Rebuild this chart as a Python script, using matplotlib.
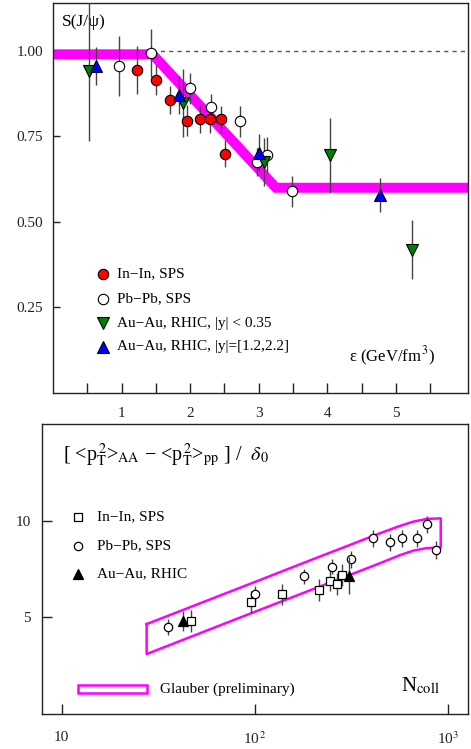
import matplotlib
matplotlib.use("Agg")
import matplotlib.pyplot as plt
import numpy as np
from matplotlib.patches import Rectangle

plt.rcParams['font.family'] = ['Liberation Serif', 'DejaVu Serif']
plt.rcParams['mathtext.fontset'] = 'stix'

# ---------------- top panel data ----------------
inin_x = [1.23, 1.50, 1.71, 1.96, 2.14, 2.29, 2.45, 2.51]
inin_y = [0.945, 0.915, 0.857, 0.796, 0.800, 0.800, 0.800, 0.700]
inin_e = [0.070, 0.045, 0.040, 0.045, 0.040, 0.040, 0.040, 0.040]

pbpb_x = [0.96, 1.43, 1.99, 2.31, 2.72, 2.97, 3.12, 3.49]
pbpb_y = [0.956, 0.993, 0.891, 0.835, 0.794, 0.675, 0.697, 0.590]
pbpb_e = [0.087, 0.070, 0.045, 0.040, 0.046, 0.040, 0.050, 0.045]

rhic_mid_x = [0.53, 1.89, 3.07, 4.04, 5.24]
rhic_mid_y = [0.942, 0.847, 0.675, 0.695, 0.419]
rhic_mid_e = [0.205, 0.100, 0.070, 0.110, 0.087]

rhic_fwd_x = [0.62, 1.84, 3.01, 4.76]
rhic_fwd_y = [0.956, 0.871, 0.703, 0.578]
rhic_fwd_e = [0.055, 0.055, 0.055, 0.050]

band_x = [0.0, 1.45, 3.25, 6.05]
band_y = [0.99, 0.99, 0.60, 0.60]

top_labels = ['In\u2212In, SPS', 'Pb\u2212Pb, SPS',
              'Au\u2212Au, RHIC, |y| < 0.35', 'Au\u2212Au, RHIC, |y|=[1.2,2.2]']

# ---------------- bottom panel data ----------------
b_inin_x = [46.7, 95, 138, 214, 244, 265, 281]
b_inin_y = [4.81, 5.79, 6.20, 6.41, 6.90, 6.72, 7.19]
b_inin_e = [0.55, 0.55, 0.55, 0.55, 0.55, 0.55, 0.55]

b_pbpb_x = [35.3, 100, 180, 249, 313, 406, 499, 574, 686, 773, 863]
b_pbpb_y = [4.51, 6.20, 7.12, 7.62, 8.00, 9.09, 8.88, 9.09, 9.09, 9.81, 8.48]
b_pbpb_e = [0.40, 0.40, 0.40, 0.40, 0.45, 0.45, 0.45, 0.45, 0.45, 0.45, 0.45]

b_auau_x = [42.3, 308]
b_auau_y = [4.81, 7.15]
b_auau_e = [0.50, 0.95]

glauber_up_x = [27.5, 106, 200, 298, 443, 563, 659, 773, 913]
glauber_up_y = [4.65, 6.93, 8.01, 8.68, 9.35, 9.73, 9.95, 10.09, 10.12]
glauber_lo_x = [27.5, 100, 200, 298, 443, 563, 659, 773, 913]
glauber_lo_y = [3.10, 5.29, 6.46, 7.13, 7.80, 8.22, 8.45, 8.58, 8.62]

bot_labels = ['In\u2212In, SPS', 'Pb\u2212Pb, SPS', 'Au\u2212Au, RHIC']

fig = plt.figure(figsize=(4.71, 7.49), dpi=100)
W, H = 471, 749

def axrect(x0, y0, x1, y1):
    return [x0 / W, 1 - y1 / H, (x1 - x0) / W, (y1 - y0) / H]

spine_col = '#222222'
err_col = '#444444'

# ======== TOP ========
ax = fig.add_axes(axrect(53, 3, 468, 393))
ax.set_xlim(0, 6.05)
ax.set_ylim(0, 1.14)
ax.plot(band_x, band_y, color='#ff00ff', lw=7.2, solid_joinstyle='miter', zorder=2)
ax.plot([1.45, 6.05], [1.0, 1.0], color='#555555', lw=1.0, ls=(0, (3, 3)), zorder=1)

ms = 7.5
ax.errorbar(inin_x, inin_y, yerr=inin_e, fmt='o', ms=ms, mfc='#ff0000', mec='black',
            mew=0.8, ecolor=err_col, elinewidth=1.0, capsize=0, zorder=4)
ax.errorbar(pbpb_x, pbpb_y, yerr=pbpb_e, fmt='o', ms=ms, mfc='white', mec='black',
            mew=0.8, ecolor=err_col, elinewidth=1.0, capsize=0, zorder=4)
ax.errorbar(rhic_mid_x, rhic_mid_y, yerr=rhic_mid_e, fmt='v', ms=8, mfc='#008000', mec='black',
            mew=0.8, ecolor=err_col, elinewidth=1.0, capsize=0, zorder=4)
ax.errorbar(rhic_fwd_x, rhic_fwd_y, yerr=rhic_fwd_e, fmt='^', ms=8, mfc='#0000ff', mec='black',
            mew=0.8, ecolor=err_col, elinewidth=1.0, capsize=0, zorder=4)

ax.set_xticks([1, 2, 3, 4, 5])
ax.set_xticks([0.5, 1.5, 2.5, 3.5, 4.5, 5.5], minor=True)
ax.set_yticks([0.25, 0.5, 0.75, 1.0])
ax.set_yticklabels(['0.25', '0.50', '0.75', '1.00'])
ax.tick_params(axis='both', which='both', direction='in', length=7, width=1.0,
               labelsize=11, colors=spine_col)
ax.tick_params(axis='x', which='both', pad=10)
ax.tick_params(axis='y', length=5, pad=7)
for s in ax.spines.values():
    s.set_color(spine_col)
    s.set_linewidth(1.0)

leg_y = [0.305, 0.241, 0.179, 0.118]
leg_style = [dict(marker='o', mfc='#ff0000', ms=ms), dict(marker='o', mfc='white', ms=ms),
             dict(marker='v', mfc='#008000', ms=8), dict(marker='^', mfc='#0000ff', ms=8)]
for yy, lab, st in zip(leg_y, top_labels, leg_style):
    ax.plot([0.1205], [yy], transform=ax.transAxes, ls='none', mec='black', mew=0.8,
            clip_on=False, **st)
    ax.text(0.154, yy, lab, transform=ax.transAxes, fontsize=11, va='center', ha='left')

ax.text(0.022, 0.951, 'S(J/\u03c8)', transform=ax.transAxes, fontsize=12.5,
        va='center', ha='left')
ax.text(0.922, 0.095, '\u03b5 (GeV/fm$^{\\,3}$)', transform=ax.transAxes, fontsize=12,
        va='center', ha='right')

# ======== BOTTOM ========
bx = fig.add_axes(axrect(41.7, 424, 467.7, 714))
bx.set_xscale('log')
bx.set_xlim(7.88, 1259)
bx.set_ylim(0, 15)

poly_x = glauber_up_x + glauber_lo_x[::-1] + [glauber_up_x[0]]
poly_y = glauber_up_y + glauber_lo_y[::-1] + [glauber_up_y[0]]
bx.plot(poly_x, poly_y, color='#ff00ff', lw=1.8, zorder=2)

bms = 5.5
bx.errorbar(b_inin_x, b_inin_y, yerr=b_inin_e, fmt='s', ms=bms, mfc='white', mec='black',
            mew=0.9, ecolor=err_col, elinewidth=1.0, capsize=0, zorder=4)
bx.errorbar(b_pbpb_x, b_pbpb_y, yerr=b_pbpb_e, fmt='o', ms=bms + 0.5, mfc='white', mec='black',
            mew=0.9, ecolor=err_col, elinewidth=1.0, capsize=0, zorder=4)
bx.errorbar(b_auau_x, b_auau_y, yerr=b_auau_e, fmt='^', ms=bms + 1, mfc='black', mec='black',
            mew=0.9, ecolor=err_col, elinewidth=1.0, capsize=0, zorder=5)

bx.set_xticks([10, 100, 1000])
bx.set_xticklabels(['10', '10$^{\\,2}$', '10$^{3}$'])
bx.xaxis.set_minor_locator(matplotlib.ticker.NullLocator())
bx.set_yticks([5, 10])
bx.set_yticklabels(['5', '10'])
bx.tick_params(axis='both', which='both', direction='in', length=7, width=1.0,
               labelsize=11, colors=spine_col)
bx.tick_params(axis='x', pad=12)
bx.tick_params(axis='y', pad=8)
for s in bx.spines.values():
    s.set_color(spine_col)
    s.set_linewidth(1.0)

bleg_y = [0.680, 0.580, 0.483]
bleg_style = [dict(marker='s', ms=bms), dict(marker='o', ms=bms + 0.5), dict(marker='^', ms=bms + 1)]
bleg_fc = ['white', 'white', 'black']
for yy, lab, st, fc in zip(bleg_y, bot_labels, bleg_style, bleg_fc):
    bx.plot([0.0845], [yy], transform=bx.transAxes, ls='none', mec='black', mew=0.9,
            mfc=fc, clip_on=False, **st)
    bx.text(0.129, yy, lab, transform=bx.transAxes, fontsize=11, va='center', ha='left')

bx.add_patch(Rectangle((0.085, 0.0735), 0.162, 0.0265, transform=bx.transAxes,
                       fill=False, edgecolor='#ff00ff', lw=1.8))
bx.text(0.278, 0.087, 'Glauber (preliminary)', transform=bx.transAxes, fontsize=11,
        va='center', ha='left')
bx.text(0.935, 0.095, 'N$_{\\rm coll}$', transform=bx.transAxes, fontsize=15,
        va='center', ha='right')
bx.text(0.05, 0.893,
        '[ <p$_{\\rm T}^{\\,2}$>$_{\\rm AA}$ \u2212 <p$_{\\rm T}^{\\,2}$>$_{\\rm pp}$ ] /  $\\delta_0$',
        transform=bx.transAxes, fontsize=14.5, va='center', ha='left')

fig.savefig('out.png', dpi=100)
